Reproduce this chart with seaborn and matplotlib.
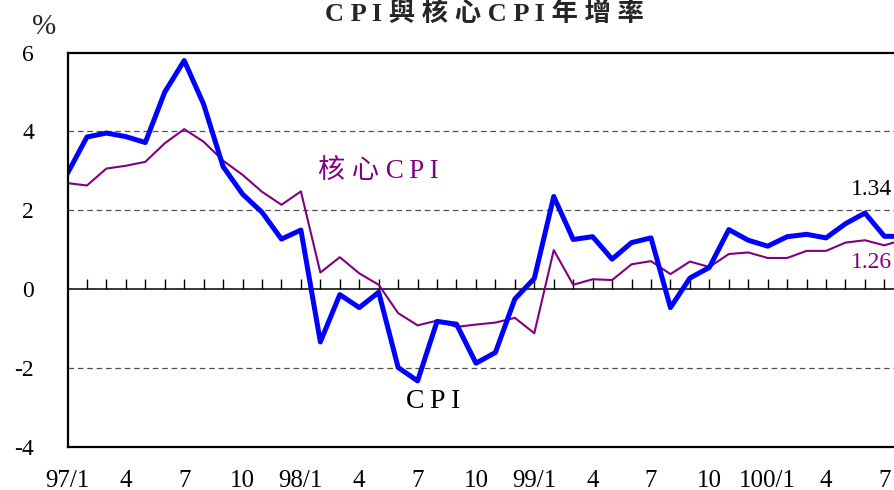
import matplotlib
matplotlib.use("Agg")
import pandas as pd
import matplotlib.pyplot as plt
import seaborn as sns

# monthly year-on-year growth, 97/1 .. 100/8 (ROC calendar)
cpi = [2.94, 3.86, 3.96, 3.87, 3.72, 5.00, 5.80, 4.69, 3.11, 2.41, 1.95, 1.27,
       1.50, -1.34, -0.14, -0.47, -0.08, -1.99, -2.33, -0.82, -0.89, -1.88, -1.61, -0.25,
       0.27, 2.35, 1.26, 1.33, 0.76, 1.18, 1.30, -0.47, 0.28, 0.55, 1.51, 1.24,
       1.09, 1.33, 1.39, 1.30, 1.66, 1.93, 1.34, 1.34]
core_cpi = [2.69, 2.63, 3.06, 3.13, 3.23, 3.70, 4.06, 3.74, 3.26, 2.90, 2.47, 2.14,
            2.48, 0.42, 0.81, 0.40, 0.11, -0.61, -0.92, -0.80, -0.96, -0.90, -0.85, -0.73,
            -1.12, 0.99, 0.11, 0.25, 0.23, 0.63, 0.71, 0.38, 0.70, 0.56, 0.89, 0.93,
            0.79, 0.79, 0.97, 0.97, 1.18, 1.24, 1.11, 1.26]
tick_labels = ["97/1", "4", "7", "10", "98/1", "4", "7", "10",
               "99/1", "4", "7", "10", "100/1", "4", "7"]
y_ticks = [-4, -2, 0, 2, 4, 6]
last_cpi = "1.34"
last_core = "1.26"

df = pd.DataFrame({"month": range(len(cpi)), "cpi": cpi, "core": core_cpi})

sns.set_theme(style="white")
SERIF = ["Liberation Serif", "Noto Sans CJK TC", "DejaVu Sans"]
plt.rcParams["font.family"] = SERIF

fig = plt.figure(figsize=(8.94, 4.90), dpi=100)
ax = fig.add_axes([67.5 / 894, 1 - 446.7 / 490, 44 * 19.45 / 894, 394 / 490])

sns.lineplot(data=df, x="month", y="core", color="#800080", linewidth=1.5, ax=ax)
sns.lineplot(data=df, x="month", y="cpi", color="#0000ff", linewidth=3.6, ax=ax)

ax.set_xlim(0, 44)
ax.set_ylim(-4, 6)
for v in [4, 2, -2]:
    ax.axhline(v, color="#505050", linewidth=0.9, linestyle=(0, (4.5, 3)), zorder=0)
ax.axhline(0, color="black", linewidth=1.1, zorder=1)

# monthly tick marks sitting on the zero line
zero_axis = ax.secondary_xaxis(0, transform=ax.transData)
zero_axis.set_xticks(range(1, len(cpi)))
zero_axis.tick_params(direction="in", length=7, width=1, color="black", labelbottom=False)
zero_axis.spines["bottom"].set_visible(False)

ax.set_xticks(range(0, 44, 3))
ax.set_xticklabels(tick_labels)
ax.set_yticks(y_ticks)
ax.set_yticklabels([str(v) for v in y_ticks])
ax.tick_params(axis="x", length=0, pad=17, labelsize=18, labelcolor="black")
ax.tick_params(axis="y", length=0, pad=24, labelsize=17, labelcolor="black")
ax.set_xlabel("")
ax.set_ylabel("")
for side in ["left", "top", "bottom"]:
    ax.spines[side].set_color("black")
    ax.spines[side].set_linewidth(1.6)
ax.spines["right"].set_visible(False)

ax.text(16.0, 2.98, "核 心 C\u2009P\u2009I", color="#800080", fontsize=19.5, ha="center", va="center")
ax.text(18.8, -2.86, "C\u2009P\u2009I", color="black", fontsize=20, ha="center", va="center")
ax.text(40.3, 2.52, last_cpi, color="black", fontsize=17, ha="left", va="center")
ax.text(40.3, 0.68, last_core, color="#800080", fontsize=17, ha="left", va="center")

fig.text(484 / 894, 1 - 13 / 490, "C P I 與 核 心 C P I 年 增 率", fontsize=19,
         fontweight="bold", ha="center", va="center")
fig.text(44 / 894, 1 - 27 / 490, "%", fontsize=21, ha="center", va="center")

fig.savefig("out.png", dpi=100)
